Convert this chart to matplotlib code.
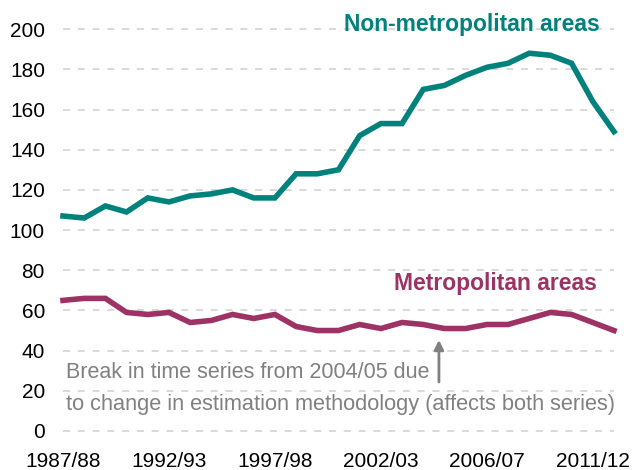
import numpy as np
import matplotlib.pyplot as plt

plt.rcParams['font.family'] = ['Liberation Sans', 'DejaVu Sans']

# financial years; 2004/05 appears twice (old and new estimation method)
years = ['1987/88', '1988/89', '1989/90', '1990/91', '1991/92', '1992/93',
         '1993/94', '1994/95', '1995/96', '1996/97', '1997/98', '1998/99',
         '1999/00', '2000/01', '2001/02', '2002/03', '2003/04', '2004/05',
         '2004/05', '2005/06', '2006/07', '2007/08', '2008/09', '2009/10',
         '2010/11', '2011/12', '2012/13']
non_metro = [107, 106, 112, 109, 116, 114, 117, 118, 120, 116, 116, 128,
             128, 130, 147, 153, 153, 170, 172, 177, 181, 183, 188, 187,
             183, 164, 149]
metro = [65, 66, 66, 59, 58, 59, 54, 55, 58, 56, 58, 52, 50, 50, 53, 51,
         54, 53, 51, 51, 53, 53, 56, 59, 58, 54, 50]
yticks = [0, 20, 40, 60, 80, 100, 120, 140, 160, 180, 200]

teal = '#00827C'
plum = '#9C3364'
grey = '#808080'

fig = plt.figure(figsize=(6.44, 4.70), dpi=100)
ax = fig.add_axes([0.0978, 0.083, 0.8556, 0.855])

x = np.arange(len(years))
ax.plot(x, non_metro, color=teal, lw=4, solid_joinstyle='miter', clip_on=False)
ax.plot(x, metro, color=plum, lw=4, solid_joinstyle='miter', clip_on=False)

ax.set_xlim(0, 26)
ax.set_ylim(0, 200)
ax.set_yticks(yticks)
ax.set_xticks(x[::5])
ax.set_xticklabels([years[i] for i in x[::5]])
ax.tick_params(length=0, labelsize=15, colors='black')
ax.tick_params(axis='y', pad=13)
ax.tick_params(axis='x', pad=15)
ax.yaxis.grid(True, color='#d9d9d9', ls=(0, (3.6, 4.0)), lw=1.4, clip_on=False)
ax.set_axisbelow(True)
for s in ax.spines.values():
    s.set_visible(False)

ax.text(25.34, 202.5, 'Non-metropolitan areas', color=teal, fontsize=16.5,
        fontweight='bold', ha='right', va='center')
ax.text(25.2, 73.6, 'Metropolitan areas', color=plum, fontsize=16.5,
        fontweight='bold', ha='right', va='center')

ax.annotate('', xy=(17.74, 45.3), xytext=(17.74, 24.4),
            arrowprops=dict(arrowstyle='-|>', color=grey, lw=2,
                            mutation_scale=14, shrinkA=0, shrinkB=0))
ax.text(0.14, 28.9, 'Break in time series from 2004/05 due', color=grey,
        fontsize=15.5, ha='left', va='center')
ax.text(0.14, 13.4, 'to change in estimation methodology (affects both series)',
        color=grey, fontsize=15.7, ha='left', va='center')

fig.savefig('out.png', dpi=100)
